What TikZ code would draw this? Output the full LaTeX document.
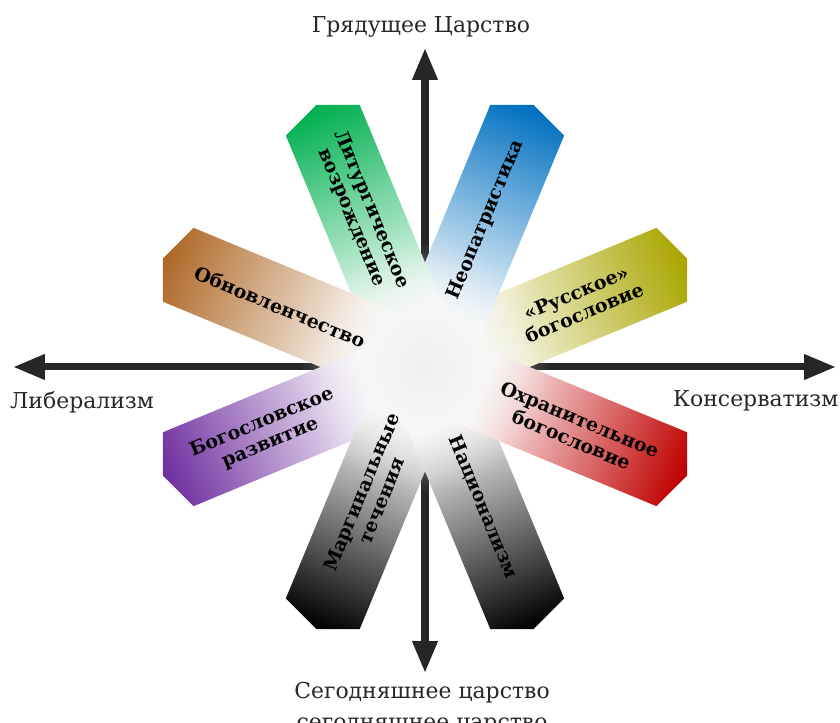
\documentclass[tikz,border=0pt]{standalone}
\usepackage{fontspec}
\setmainfont{DejaVu Serif}
\usetikzlibrary{arrows.meta}
\usetikzlibrary{fadings}

\definecolor{litgreen}{RGB}{0,176,80}
\definecolor{patrblue}{RGB}{0,112,192}
\definecolor{russolive}{RGB}{170,165,0}
\definecolor{conred}{RGB}{192,0,0}
\definecolor{renbrown}{RGB}{175,105,40}
\definecolor{devpurple}{RGB}{112,48,160}
\definecolor{axisgray}{RGB}{38,38,38}
\colorlet{petalcol}{white}

\pgfdeclarehorizontalshading[petalcol]{petalshade}{100bp}{color(0bp)=(white); color(33bp)=(white); color(74bp)=(petalcol); color(100bp)=(petalcol)}
\tikzfading[name=blobfade, inner color=transparent!0, outer color=transparent!100]

\begin{document}
\begin{tikzpicture}[x=1bp,y=1bp,
  axis/.style={line width=7bp,draw=axisgray,-{Triangle[length=32bp,width=24bp]}},
  pole/.style={font=\fontsize{22}{24}\selectfont,text=axisgray,inner sep=0pt},
  petaltext/.style={font=\bfseries\fontsize{19}{22}\selectfont,align=center,inner sep=0pt}]

  \useasboundingbox (-425,-356) rectangle (415,367);
  \clip (-425,-356) rectangle (415,367);

  % axes
  \coordinate (c) at (0,0);
  \coordinate (tipN) at (0,319);
  \coordinate (tipS) at (0,-306);
  \coordinate (tipW) at (-412,0);
  \coordinate (tipE) at (411,0);
  \draw[axis] (c) -- (tipN);
  \draw[axis] (c) -- (tipS);
  \draw[axis] (c) -- (tipW);
  \draw[axis] (c) -- (tipE);

  \node[pole,anchor=base] (future) at (-4,334) {Грядущее Царство};
  \node[pole,anchor=base] (present) at (-3,-331) {Сегодняшнее царство};
  \node[pole,anchor=base] (present2) at (-3,-362) {сегодняшнее царство};
  \node[pole,anchor=base west] (liberal) at (-415,-42) {Либерализм};
  \node[pole,anchor=base west] (conserv) at (248,-40) {Консерватизм};

  % petals
  \foreach \ang/\col in {22.5/russolive,67.5/patrblue,112.5/litgreen,157.5/renbrown,
                         202.5/devpurple,247.5/black,292.5/black,337.5/conred}{
    \colorlet{petalcol}{\col}
    \begin{scope}
      \clip (22.5:283.6) \foreach \k in {1,...,7}{ -- (22.5+45*\k:283.6)} -- cycle;
      \shade[shading=petalshade,shading angle=\ang,rotate=\ang]
        (0,-40) -- (300,-40) -- (300,40) -- (0,40) -- cycle;
    \end{scope}
  }

  \fill[black!6,path fading=blobfade] (c) circle (125);

  % labels
  \foreach \ang/\dist/\name/\txt in {22.5/168/russ/{«Русское»\\богословие},
      67.5/159/patr/{Неопатристика},
      112.5/166/liturg/{Литургическое\\возрождение},
      157.5/157/renov/{Обновленчество},
      202.5/172/devel/{Богословское\\развитие},
      247.5/140/margin/{Маргинальные\\течения},
      292.5/152/nation/{Национализм},
      337.5/163/protect/{Охранительное\\богословие}}{
    \pgfmathsetmacro\rot{cos(\ang)<0 ? \ang-180 : \ang}
    \node[petaltext,rotate=\rot] (\name) at (\ang:\dist) {\txt};
  }
\end{tikzpicture}
\end{document}
